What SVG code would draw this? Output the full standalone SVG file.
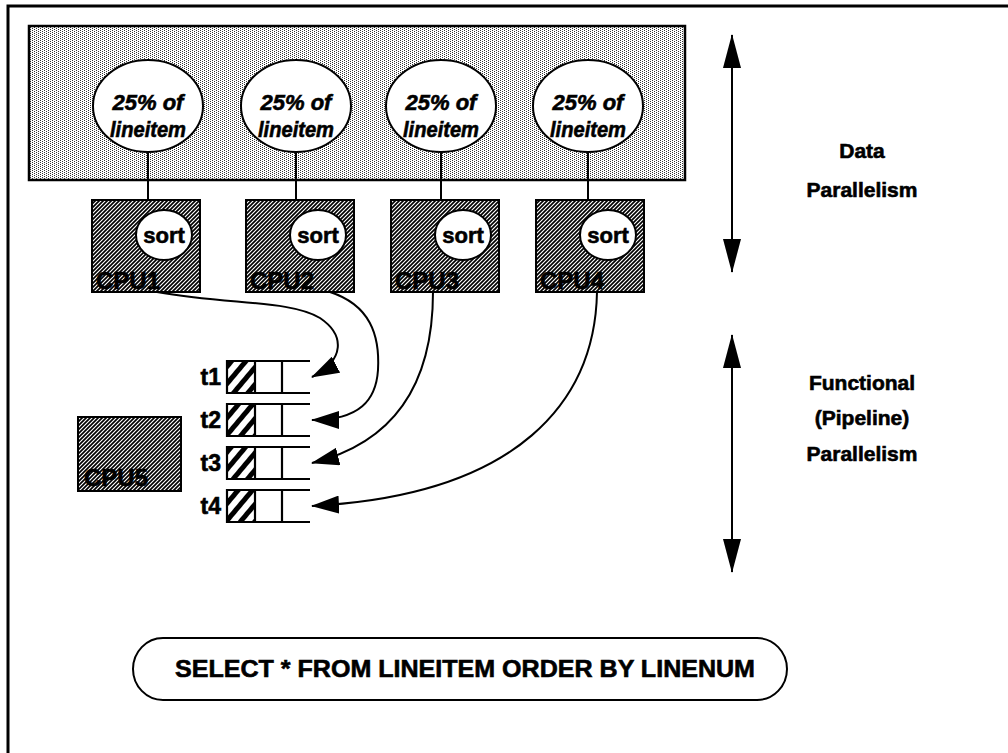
<svg xmlns="http://www.w3.org/2000/svg" width="1008" height="753" viewBox="0 0 1008 753">
<style>
.t{font-family:"Liberation Sans",Arial,sans-serif;font-weight:bold;fill:#000;stroke:#000;stroke-width:0.6}
.it{font-style:italic}
.ln{fill:none;stroke:#000;stroke-width:2}
.q{fill:none;stroke:#000;stroke-width:2.2}
.el{fill:#fff;stroke:#000;stroke-width:2}
.box{fill:url(#hatch);stroke:#000;stroke-width:2}
</style>
<defs>
<pattern id="dots" width="4" height="2" patternUnits="userSpaceOnUse">
<rect width="4" height="2" fill="#fff"/><rect width="1" height="1" fill="#333"/><rect x="2" y="1" width="1" height="1" fill="#333"/>
</pattern>
<pattern id="hatch" width="4" height="4" patternUnits="userSpaceOnUse">
<rect width="4" height="4" fill="#fff"/>
<path d="M-1,1 L1,-1 M0,4 L4,0 M3,5 L5,3" stroke="#000" stroke-width="1.7"/>
</pattern>
<pattern id="stripe" width="11" height="11" patternUnits="userSpaceOnUse" patternTransform="rotate(40)">
<rect width="11" height="11" fill="#fff"/><rect width="5" height="11" fill="#000"/>
</pattern>
<marker id="ah" viewBox="0 0 28 18" refX="27" refY="9" markerWidth="28" markerHeight="18" markerUnits="userSpaceOnUse" orient="auto">
<path d="M0,0 L28,9 L0,18 z" fill="#000"/>
</marker>
<marker id="va" viewBox="0 0 34 18" refX="33" refY="9" markerWidth="34" markerHeight="18" markerUnits="userSpaceOnUse" orient="auto-start-reverse">
<path d="M0,0 L34,9 L0,18 z" fill="#000"/>
</marker>
</defs>
<rect width="1008" height="753" fill="#fff"/>
<path d="M8,753 V6 H1008" fill="none" stroke="#000" stroke-width="3"/>

<g id="band">
<rect x="29" y="26" width="656" height="154" fill="url(#dots)" stroke="#000" stroke-width="2.5"/>
</g>

<g id="connectors">
<line class="ln" x1="148" y1="150" x2="148" y2="200"/>
<line class="ln" x1="296" y1="150" x2="296" y2="200"/>
<line class="ln" x1="441" y1="150" x2="441" y2="200"/>
<line class="ln" x1="588" y1="150" x2="588" y2="200"/>
<path class="ln" d="M157,292 C230,305 290,300 320,318 C345,335 345,360 312,377" marker-end="url(#ah)"/>
<path class="ln" d="M330,292 C370,305 380,335 378,370 C376,400 360,420 312,420" marker-end="url(#ah)"/>
<path class="ln" d="M433,292 C433,370 405,440 312,463" marker-end="url(#ah)"/>
<path class="ln" d="M597,292 C595,400 520,495 312,506" marker-end="url(#ah)"/>
<line class="ln" x1="732" y1="35" x2="732" y2="272" marker-start="url(#va)" marker-end="url(#va)"/>
<line class="ln" x1="732" y1="335" x2="732" y2="572" marker-start="url(#va)" marker-end="url(#va)"/>
</g>

<g id="part1">
<ellipse class="el" cx="148" cy="106" rx="55" ry="46"/>
<text class="t it" x="148" y="110" font-size="22" text-anchor="middle">25% of</text>
<text class="t it" x="148" y="137" font-size="22" text-anchor="middle" textLength="76" lengthAdjust="spacingAndGlyphs">lineitem</text>
</g>
<g id="part2">
<ellipse class="el" cx="296" cy="106" rx="55" ry="46"/>
<text class="t it" x="296" y="110" font-size="22" text-anchor="middle">25% of</text>
<text class="t it" x="296" y="137" font-size="22" text-anchor="middle" textLength="76" lengthAdjust="spacingAndGlyphs">lineitem</text>
</g>
<g id="part3">
<ellipse class="el" cx="441" cy="106" rx="55" ry="46"/>
<text class="t it" x="441" y="110" font-size="22" text-anchor="middle">25% of</text>
<text class="t it" x="441" y="137" font-size="22" text-anchor="middle" textLength="76" lengthAdjust="spacingAndGlyphs">lineitem</text>
</g>
<g id="part4">
<ellipse class="el" cx="588" cy="106" rx="55" ry="46"/>
<text class="t it" x="588" y="110" font-size="22" text-anchor="middle">25% of</text>
<text class="t it" x="588" y="137" font-size="22" text-anchor="middle" textLength="76" lengthAdjust="spacingAndGlyphs">lineitem</text>
</g>

<g id="cpu1">
<rect class="box" x="92" y="200" width="108" height="92"/>
<ellipse class="el" cx="164" cy="235" rx="28" ry="25"/>
<text class="t" x="164" y="243" font-size="22" text-anchor="middle">sort</text>
<text class="t" x="96" y="289" font-size="24">CPU1</text>
</g>
<g id="cpu2">
<rect class="box" x="246" y="200" width="108" height="92"/>
<ellipse class="el" cx="318" cy="235" rx="28" ry="25"/>
<text class="t" x="318" y="243" font-size="22" text-anchor="middle">sort</text>
<text class="t" x="250" y="289" font-size="24">CPU2</text>
</g>
<g id="cpu3">
<rect class="box" x="391" y="200" width="108" height="92"/>
<ellipse class="el" cx="463" cy="235" rx="28" ry="25"/>
<text class="t" x="463" y="243" font-size="22" text-anchor="middle">sort</text>
<text class="t" x="395" y="289" font-size="24">CPU3</text>
</g>
<g id="cpu4">
<rect class="box" x="536" y="200" width="108" height="92"/>
<ellipse class="el" cx="608" cy="235" rx="28" ry="25"/>
<text class="t" x="608" y="243" font-size="22" text-anchor="middle">sort</text>
<text class="t" x="540" y="289" font-size="24">CPU4</text>
</g>

<g id="cpu5">
<rect class="box" x="78" y="417" width="103" height="74"/>
<text class="t" x="84" y="486" font-size="24">CPU5</text>
</g>

<g id="queue-t1">
<text class="t" x="221" y="385" font-size="23" text-anchor="end">t1</text>
<rect x="227" y="361" width="28" height="32" fill="url(#stripe)"/>
<path class="q" d="M310,361 H227 V393 H310 M255,361 V393 M282,361 V393"/>
</g>
<g id="queue-t2">
<text class="t" x="221" y="428" font-size="23" text-anchor="end">t2</text>
<rect x="227" y="404" width="28" height="32" fill="url(#stripe)"/>
<path class="q" d="M310,404 H227 V436 H310 M255,404 V436 M282,404 V436"/>
</g>
<g id="queue-t3">
<text class="t" x="221" y="471" font-size="23" text-anchor="end">t3</text>
<rect x="227" y="447" width="28" height="32" fill="url(#stripe)"/>
<path class="q" d="M310,447 H227 V479 H310 M255,447 V479 M282,447 V479"/>
</g>
<g id="queue-t4">
<text class="t" x="221" y="514" font-size="23" text-anchor="end">t4</text>
<rect x="227" y="490" width="28" height="32" fill="url(#stripe)"/>
<path class="q" d="M310,490 H227 V522 H310 M255,490 V522 M282,490 V522"/>
</g>

<g id="label-data">
<text class="t" x="862" y="158" font-size="21" text-anchor="middle">Data</text>
<text class="t" x="862" y="197" font-size="21" text-anchor="middle">Parallelism</text>
</g>
<g id="label-functional">
<text class="t" x="862" y="390" font-size="21" text-anchor="middle">Functional</text>
<text class="t" x="862" y="425" font-size="21" text-anchor="middle">(Pipeline)</text>
<text class="t" x="862" y="461" font-size="21" text-anchor="middle">Parallelism</text>
</g>

<g id="query">
<rect x="133" y="638" width="654" height="62" rx="30" ry="31" fill="#fff" stroke="#000" stroke-width="2"/>
<text class="t" x="465" y="677" font-size="24" text-anchor="middle" textLength="580" lengthAdjust="spacingAndGlyphs">SELECT * FROM LINEITEM ORDER BY LINENUM</text>
</g>
</svg>
